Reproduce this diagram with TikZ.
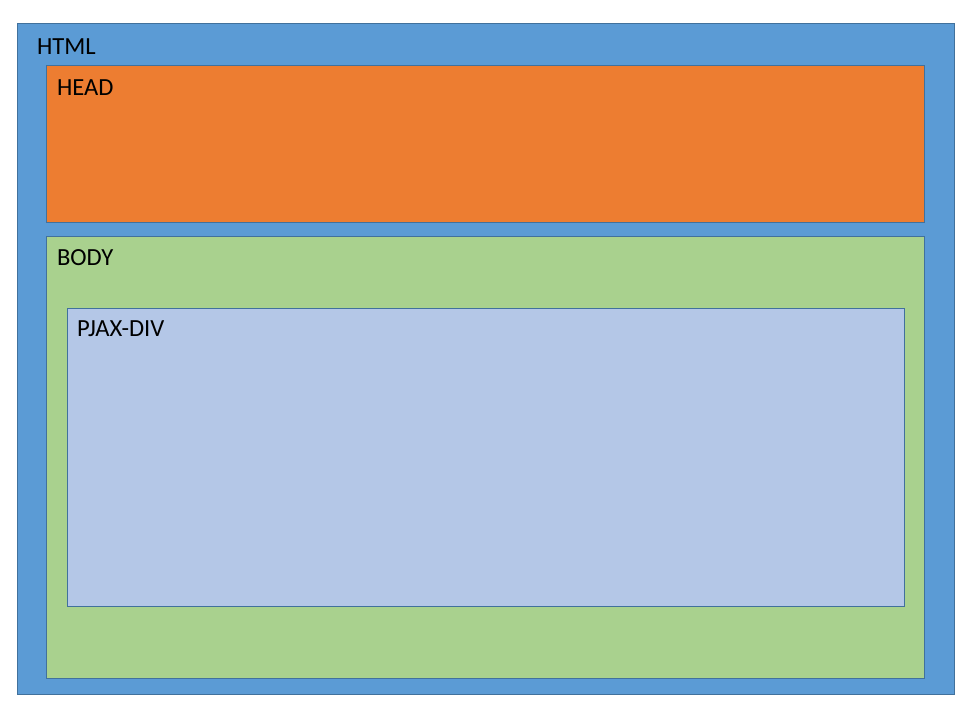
\documentclass[tikz,border=0pt]{standalone}
\usepackage{fontspec}
\setmainfont{Carlito}
\usetikzlibrary{positioning}
\definecolor{htmlblue}{HTML}{5B9BD5}
\definecolor{headorange}{HTML}{ED7D31}
\definecolor{bodygreen}{HTML}{A9D18E}
\definecolor{pjaxblue}{HTML}{B4C7E7}
\definecolor{edgeblue}{HTML}{41719C}
\begin{document}
\begin{tikzpicture}[x=1pt,y=-1pt]
  \tikzset{every node/.style={inner sep=0pt,outer sep=0pt},font={\fontsize{24.6}{28}\selectfont}}
  \tikzset{box/.style={draw=edgeblue,line width=0.8pt,anchor=north west}}
  \tikzset{tag/.style={anchor=base west}}

  \useasboundingbox (0,0) rectangle (972,720);

  % boxes
  \node[box,fill=htmlblue,minimum width=937pt,minimum height=671pt]   (html) at (17,23)  {};
  \node[box,fill=headorange,minimum width=878pt,minimum height=157pt] (head) at (46,65)  {};
  \node[box,fill=bodygreen,minimum width=878pt,minimum height=442pt]  (body) at (46,236) {};
  \node[box,fill=pjaxblue,minimum width=837pt,minimum height=298pt]   (pjax) at (67,308) {};

  % labels
  \node[tag] (htmltag) at ([shift={(20,31)}]html.north west) {HTML};
  \node[tag] (headtag) at ([shift={(11,30)}]head.north west) {HEAD};
  \node[tag] (bodytag) at ([shift={(11,29)}]body.north west) {BODY};
  \node[tag] (pjaxtag) at ([shift={(10,28)}]pjax.north west) {PJAX-DIV};

\end{tikzpicture}
\end{document}
